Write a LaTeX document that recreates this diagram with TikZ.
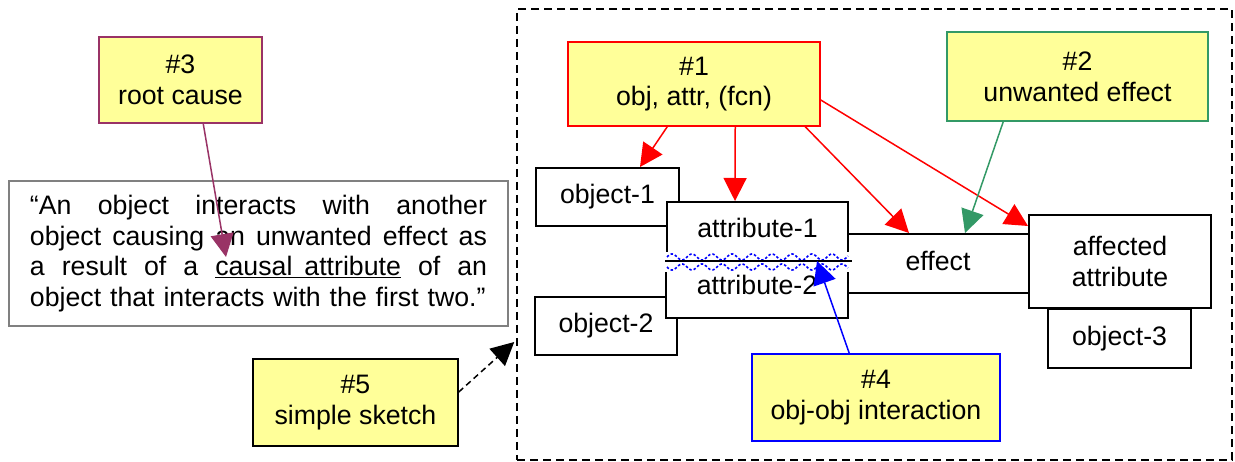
\documentclass[tikz,border=0pt]{standalone}
\usepackage{fontspec}
\setmainfont{Liberation Sans}
\usetikzlibrary{arrows.meta,calc}
\definecolor{noteyellow}{HTML}{FFFF99}
\definecolor{notegreen}{HTML}{339966}
\definecolor{notemaroon}{HTML}{993366}
\definecolor{quotegray}{HTML}{808080}
\tikzset{
  plainbox/.style={draw=black, line width=2pt, fill=white, inner sep=0pt, text height=19pt, text depth=5pt},
  twobox/.style={draw=black, line width=2pt, fill=white, inner sep=0pt, align=center},
  notebox/.style={draw, line width=1.5pt, fill=noteyellow, inner sep=0pt, align=center},
  arr/.style={line width=1.5pt, -{Triangle[length=23pt,width=23pt]}},
  wave/.style={blue, line width=1.6pt, dash pattern=on 2.5pt off 2pt}
}
\begin{document}
\begin{tikzpicture}[x=1pt,y=-1pt,font=\fontsize{26.7}{30.7}\selectfont]
\useasboundingbox (0,0) rectangle (1235,462);
% frame
\node[draw, line width=1.5pt, dash pattern=on 8pt off 5pt, minimum width=715pt, minimum height=451pt, inner sep=0pt] (frame) at (874.5,234.5) {};
% boxes
\node[plainbox, minimum width=143pt, minimum height=58pt] (obj1) at (607.5,197) {object-1};
\node[plainbox, minimum width=142pt, minimum height=58pt] (obj2) at (606,326) {object-2};
\node[plainbox, minimum width=182pt, minimum height=59pt] (effect) at (938,263.5) {effect};
\node[plainbox, minimum width=143pt, minimum height=59pt] (obj3) at (1119.5,338.5) {object-3};
\node[twobox, minimum width=182pt, minimum height=93pt] (aff) at (1120,261.5) {affected\\attribute};
\node[plainbox, minimum width=182pt, minimum height=55pt] (attr2) at (757,290.5) {\raisebox{3pt}{attribute-2}};
\node[plainbox, minimum width=181pt, minimum height=61pt] (attr1) at (757.5,232.5) {\raisebox{2pt}{attribute-1}};
% interaction band
\fill[white] (665,252) rectangle (850,272);
\draw[wave] plot[domain=0:181, samples=240] ({667+\x}, {257 - 3*sin(18*\x)});
\draw[wave] plot[domain=0:181, samples=240] ({667+\x}, {267 + 3*sin(18*\x)});
\draw[line width=1.5pt] ($(attr2.north west)+(0,-1)$) -- ($(attr2.north east)+(3,-1)$);
% quote
\node[draw=quotegray, line width=2pt, fill=white, minimum width=499pt, minimum height=145pt, inner sep=0pt, text width=457pt, align=left] (quote) at (258.5,253.5) {\makebox[457pt][l]{“An\hfill object\hfill interacts\hfill with\hfill another}\\
\makebox[457pt][l]{object\hfill causing\hfill an\hfill unwanted\hfill effect\hfill as}\\
\makebox[457pt][l]{a\hfill result\hfill of\hfill a\hfill \underline{causal\hspace{12pt}attribute}\hfill of\hfill an}\\
object that interacts with the first two.”};
% notes
\node[notebox, draw=red, minimum width=252pt, minimum height=84pt] (n1) at (694,84) {\#1\\obj, attr, (fcn)};
\node[notebox, draw=notegreen, minimum width=261pt, minimum height=89pt] (n2) at (1077.5,76.5) {\#2\\unwanted effect};
\node[notebox, draw=notemaroon, minimum width=163pt, minimum height=86pt] (n3) at (180.5,80) {\#3\\root cause};
\node[notebox, draw=blue, minimum width=248pt, minimum height=87pt] (n4) at (876,397.5) {\#4\\obj-obj interaction};
\node[notebox, draw=black, minimum width=205pt, minimum height=87pt] (n5) at (355.5,402.5) {\#5\\simple sketch};
% arrows
\draw[arr, red] ($(n1.south west)+(100,0)$) -- ($(obj1.north west)+(105,0)$);
\draw[arr, red] ($(n1.south west)+(168,0)$) -- ($(attr1.north west)+(69,0)$);
\draw[arr, red] ($(n1.south west)+(238,0)$) -- ($(effect.north west)+(63,0)$);
\draw[arr, red] ($(n1.east)+(0,16)$) -- ($(aff.north west)+(0,12)$);
\draw[arr, notegreen] ($(n2.south west)+(57,0)$) -- ($(effect.north west)+(119,0)$);
\draw[arr, blue] ($(n4.north west)+(98,0)$) -- ($(attr2.north west)+(152,-1)$);
\draw[arr, notemaroon] ($(n3.south west)+(105,0)$) -- ($(quote.north west)+(218,77)$);
\draw[arr, black, dash pattern=on 6pt off 4pt] ($(n5.east)+(0,-10.5)$) -- ($(frame.west)+(-2,107.5)$);
\end{tikzpicture}
\end{document}
